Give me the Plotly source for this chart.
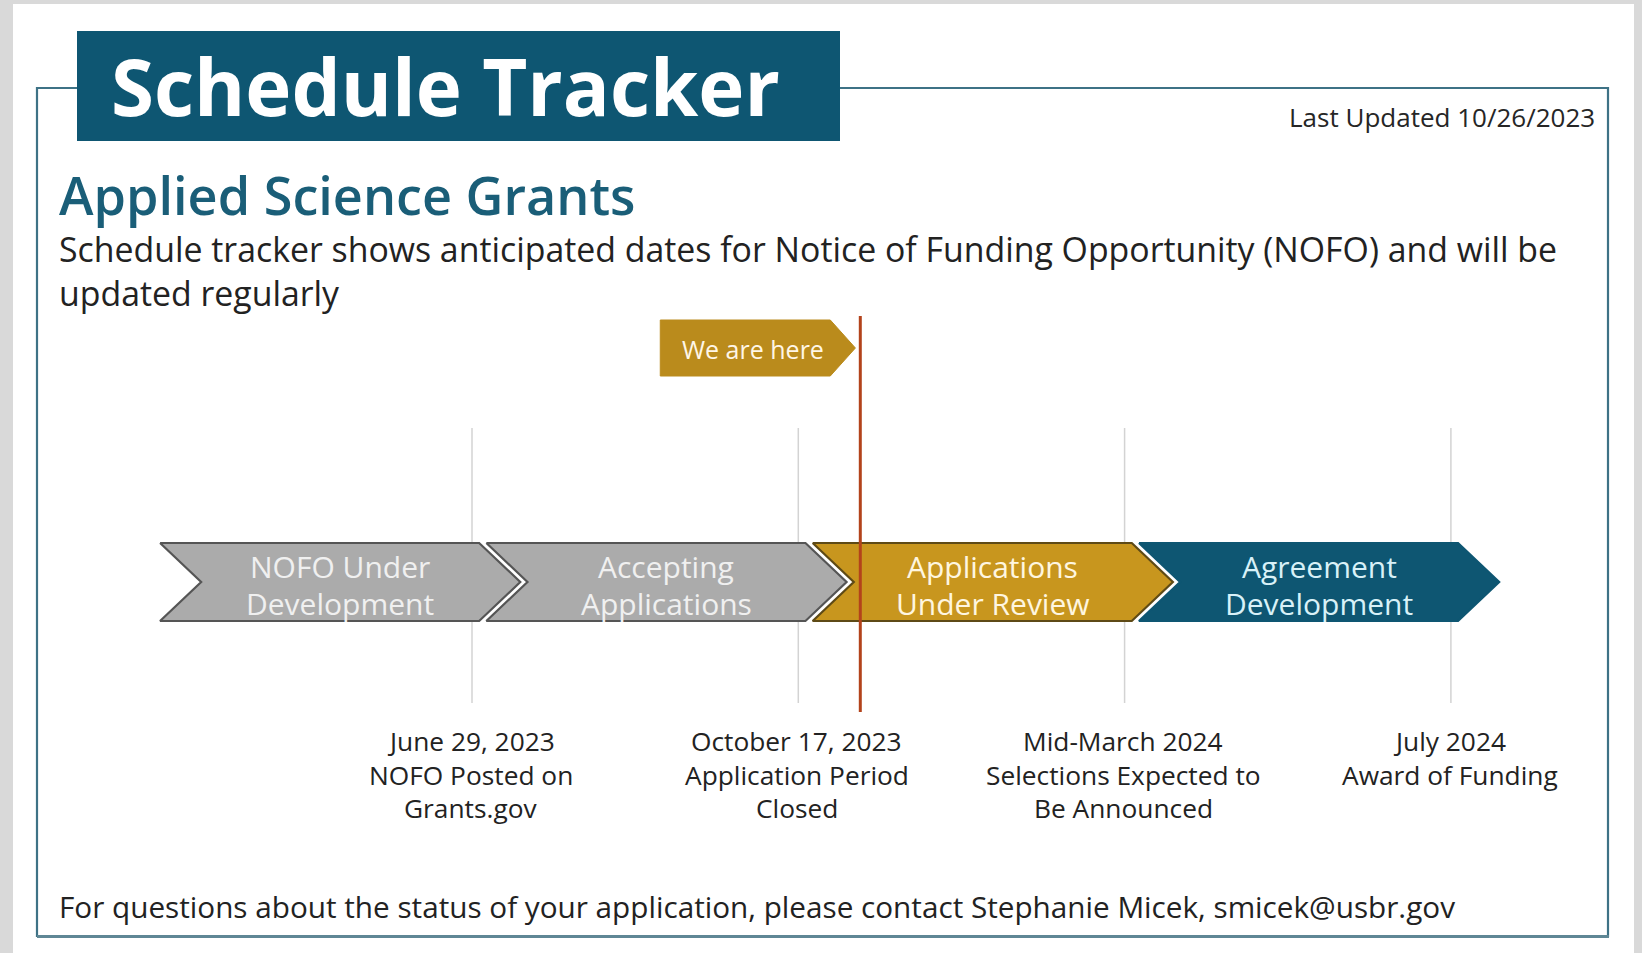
import plotly.graph_objects as go

W, H = 1642, 953

# ---------------- data ----------------
phase_lines = [["NOFO Under", "Development"],
               ["Accepting", "Applications"],
               ["Applications", "Under Review"],
               ["Agreement", "Development"]]
phase_status = ["done", "done", "current", "next"]

milestone_pos = [1, 2, 3, 4]
milestone_dates = ["June 29, 2023", "October 17, 2023", "Mid-March 2024", "July 2024"]
milestone_events = [["NOFO Posted on", "Grants.gov"],
                    ["Application Period", "Closed"],
                    ["Selections Expected to", "Be Announced"],
                    ["Award of Funding"]]

current_pos = 2.19
current_label = "We are here"
last_updated = "10/26/2023"

title_text = "Schedule Tracker"
program_name = "Applied Science Grants"
subtitle_lines = ["Schedule tracker shows anticipated dates for Notice of Funding Opportunity (NOFO) and will be",
                  "updated regularly"]
footer_text = "For questions about the status of your application, please contact Stephanie Micek, smicek@usbr.gov"

# ---------------- styles ----------------
status_fill = {"done": "#ABABAB", "current": "#C8961E", "next": "#0E5672"}
status_line = {"done": "#555555", "current": "#5E4A16", "next": "#0E5672"}
status_text = {"done": "#F0F0F0", "current": "#FFF6E0", "next": "#D8F1F8"}
TEAL = "#0E5672"
BODY_FONT = "Open Sans"

PX_PER_UNIT = 326.3
X_MIN = 1 - 472 / PX_PER_UNIT
X_MAX = X_MIN + W / PX_PER_UNIT

CH_TOP, CH_BOT = 543, 621
CH_MID = (CH_TOP + CH_BOT) / 2
CH_LEFT, CH_RIGHT, CH_TIP = 0.044, 1.022, 1.148
CH_DEPTH = CH_TIP - CH_RIGHT


def px(x):
    return x / W


fig = go.Figure()

shapes = []
# white panel
shapes.append(dict(type="rect", xref="paper", yref="y", x0=px(13), x1=px(1634), y0=4, y1=953,
                   fillcolor="white", line=dict(width=0), layer="below"))
# frame
shapes.append(dict(type="rect", xref="paper", yref="y", x0=px(37), x1=px(1608), y0=88, y1=936,
                   fillcolor="rgba(0,0,0,0)", line=dict(color="#3E7286", width=2.2), layer="below"))
shapes.append(dict(type="line", xref="paper", yref="y", x0=px(37), x1=px(1609), y0=936.5, y1=936.5,
                   line=dict(color="#5F8795", width=3), layer="below"))
# title box
shapes.append(dict(type="rect", xref="paper", yref="y", x0=px(77), x1=px(840), y0=31, y1=141,
                   fillcolor=TEAL, line=dict(width=0), layer="below"))
# milestone guide lines
for m in milestone_pos:
    shapes.append(dict(type="line", xref="x", yref="y", x0=m, x1=m, y0=428, y1=703,
                       line=dict(color="#D3D3D3", width=1.5), layer="below"))
# current position marker line
shapes.append(dict(type="line", xref="x", yref="y", x0=current_pos, x1=current_pos, y0=316, y1=712,
                   line=dict(color="#B3431B", width=3), layer="above"))

# chevrons
for i, status in enumerate(phase_status):
    l, r, t = i + CH_LEFT, i + CH_RIGHT, i + CH_TIP
    n = l + CH_DEPTH
    xs = [l, r, t, r, l, n, l]
    ys = [CH_TOP, CH_TOP, CH_MID, CH_BOT, CH_BOT, CH_MID, CH_TOP]
    fig.add_trace(go.Scatter(x=xs, y=ys, mode="lines", fill="toself",
                             fillcolor=status_fill[status],
                             line=dict(color=status_line[status], width=2.2),
                             hoverinfo="skip", showlegend=False))

# "We are here" flag
f_left, f_flat, f_tip = current_pos - 0.613, current_pos - 0.092, current_pos - 0.015
fig.add_trace(go.Scatter(x=[f_left, f_flat, f_tip, f_flat, f_left, f_left],
                         y=[320, 320, 348, 376, 376, 320], mode="lines", fill="toself",
                         fillcolor="#BA8B1C", line=dict(color="#BA8B1C", width=1),
                         hoverinfo="skip", showlegend=False))

ann = []
ann.append(dict(text=title_text, xref="paper", yref="y", x=px(446), y=86,
                xanchor="center", yanchor="middle", showarrow=False,
                font=dict(family=BODY_FONT, size=78, color="white", weight=700)))
ann.append(dict(text="Last Updated " + last_updated, xref="paper", yref="y", x=px(1597), y=117,
                xanchor="right", yanchor="middle", showarrow=False,
                font=dict(family=BODY_FONT, size=26, color="#262626")))
ann.append(dict(text=program_name, xref="paper", yref="y", x=px(57), y=194,
                xanchor="left", yanchor="middle", showarrow=False,
                font=dict(family=BODY_FONT, size=52.2, color="#1A5E78", weight=600)))
for k, line in enumerate(subtitle_lines):
    ann.append(dict(text=line, xref="paper", yref="y", x=px(57), y=249 + 44 * k,
                    xanchor="left", yanchor="middle", showarrow=False,
                    font=dict(family=BODY_FONT, size=33.85, color="#222222")))
ann.append(dict(text=current_label, xref="x", yref="y", x=current_pos - 0.329, y=349,
                xanchor="center", yanchor="middle", showarrow=False,
                font=dict(family=BODY_FONT, size=25, color="#FFF6E6")))
for i, lines in enumerate(phase_lines):
    for k, line in enumerate(lines):
        ann.append(dict(text=line, xref="x", yref="y", x=i + (CH_LEFT + CH_TIP) / 2, y=566 + 37 * k,
                        xanchor="center", yanchor="middle", showarrow=False,
                        font=dict(family=BODY_FONT, size=30, color=status_text[phase_status[i]])))
for m, d, ev in zip(milestone_pos, milestone_dates, milestone_events):
    for k, line in enumerate([d] + ev):
        ann.append(dict(text=line, xref="x", yref="y", x=m - 0.004, y=741 + 33.5 * k,
                        xanchor="center", yanchor="middle", showarrow=False,
                        font=dict(family=BODY_FONT, size=26.3, color="#222222")))
ann.append(dict(text=footer_text, xref="paper", yref="y", x=px(57), y=906,
                xanchor="left", yanchor="middle", showarrow=False,
                font=dict(family=BODY_FONT, size=29.7, color="#222222")))

fig.update_layout(
    width=W, height=H, margin=dict(l=0, r=0, t=0, b=0, pad=0),
    paper_bgcolor="#D9D9D9", plot_bgcolor="#D9D9D9",
    xaxis=dict(range=[X_MIN, X_MAX], visible=False, showgrid=False, zeroline=False, fixedrange=True),
    yaxis=dict(range=[H, 0], visible=False, showgrid=False, zeroline=False, fixedrange=True),
    shapes=shapes, annotations=ann, showlegend=False, hovermode=False,
)

fig.write_html("out.html", config={"displayModeBar": False},
               post_script="document.body.style.margin='0';document.body.style.overflow='hidden';")
